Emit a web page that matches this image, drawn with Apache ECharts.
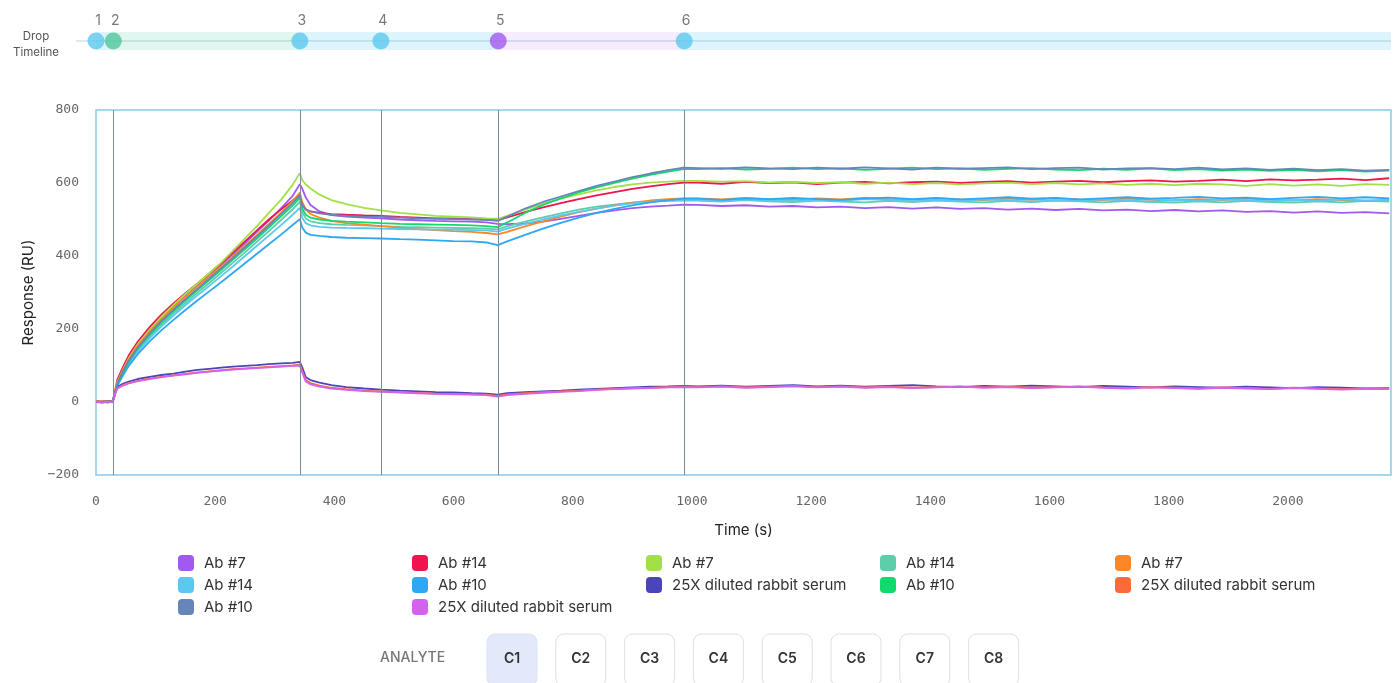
<!DOCTYPE html>
<html>
<head>
<meta charset="utf-8">
<title>Drop Timeline – Response</title>
<script src="https://cdn.jsdelivr.net/npm/echarts/dist/echarts.min.js"></script>
<style>
  html, body { margin: 0; padding: 0; background: #ffffff; }
  #chart { width: 1396px; height: 683px; }
</style>
</head>
<body>
<div id="chart"></div>
<script>
// Sample times (s) shared by every sensor trace
const times = [0,10,20,28, 32,36,45,55,70,90,110,130,150,170,190,210,230,250,270,290,310,330,342,
  346,352,360,375,395,420,450,478,510,540,570,600,630,655,674,
  690,720,750,780,810,840,870,900,930,960,986,
  1010,1050,1090,1130,1170,1210,1250,1290,1330,1370,1410,1450,1490,1530,1570,1610,1650,1690,1730,1770,1810,1850,1890,1930,1970,2010,2050,2090,2130,2170];

// Drop start times (s) for drops 1..6
const dropTimes = [0, 29, 342, 478, 675, 987];
const dropColors = ['#5bc8ef', '#4fc79a', '#5bc8ef', '#5bc8ef', '#a259f0', '#5bc8ef'];
// Band colour following each drop
const bandColors = ['rgba(91,200,239,0.2)', 'rgba(79,199,154,0.17)', 'rgba(91,200,239,0.2)',
  'rgba(91,200,239,0.2)', 'rgba(162,89,240,0.11)', 'rgba(91,200,239,0.2)'];

// Response (RU) per trace
const ab7Purple = [1,-2,2,0,
  24,52,84,115,152,192,228,260,290,318,346,375,405,435,466,497,530,565,597,
  585,560,540,522,512,508,505,503,500,498,496,495,494,492,488,
  487,489,494,502,510,518,525,531,535,538,541,
  540,537,539,535,537,533,535,531,534,530,533,529,531,527,530,526,529,525,527,523,526,522,525,521,523,519,522,518,520,517];
const ab14Red = [2,0,-1,1,
  30,62,95,128,165,205,240,270,298,324,352,380,410,440,470,500,527,552,568,
  540,527,522,518,515,513,511,510,507,505,503,503,501,500,498,
  506,520,533,545,556,566,575,584,591,597,601,
  601,598,603,600,602,597,601,603,599,602,604,600,603,605,601,604,606,602,605,607,604,606,609,605,610,607,609,612,608,613];
const ab7Lime = [0,1,-1,2,
  26,55,88,120,158,198,234,266,296,324,352,382,415,448,482,518,553,595,627,
  608,596,585,568,553,542,532,525,518,514,510,508,506,503,502,
  510,527,543,557,569,580,589,596,601,604,606,
  606,604,605,601,603,600,602,598,601,597,600,596,599,601,597,600,596,599,595,598,594,598,596,592,597,593,596,592,597,595];
const ab14Teal = [1,-1,0,2,
  22,49,78,107,142,179,212,243,271,299,326,354,382,410,439,468,498,528,549,
  520,503,495,490,487,485,484,482,480,479,478,477,476,475,473,
  481,494,506,517,527,535,541,546,549,551,552,
  552,549,553,550,548,552,549,547,551,548,552,549,547,551,548,552,550,547,551,548,546,550,547,551,548,546,550,547,551,549];
const ab7Orange = [0,2,1,-1,
  25,54,86,117,154,193,228,259,288,316,343,371,400,428,458,488,518,550,574,
  548,528,515,505,496,490,486,482,478,474,471,468,466,463,459,
  466,481,495,508,520,530,539,546,552,556,558,
  558,555,559,556,554,558,555,559,556,554,558,555,553,557,554,558,555,553,557,554,552,556,553,557,554,552,556,553,551,554];
const ab14Sky = [-1,1,2,0,
  21,47,76,104,138,175,207,237,265,292,318,345,372,400,428,456,484,513,532,
  505,490,484,480,478,477,476,475,474,473,472,472,471,470,467,
  475,488,500,511,521,530,538,544,549,552,554,
  554,551,555,552,550,554,551,556,553,550,554,551,555,552,549,553,551,555,552,549,554,551,555,552,550,554,551,555,552,554];
const ab10Blue = [0,-1,1,2,
  20,45,72,99,131,166,197,225,252,278,303,328,354,380,406,432,458,485,501,
  478,464,458,455,452,450,449,448,446,445,443,441,440,437,430,
  440,458,475,491,505,518,529,539,547,553,557,
  557,554,558,556,559,556,554,558,560,556,559,555,558,561,557,559,555,558,561,557,559,562,558,560,556,559,562,558,561,558];
const serumIndigo = [2,0,3,1,
  28,42,50,56,63,69,74,78,83,88,91,94,97,99,101,104,106,107,110,
  95,68,60,53,46,41,37,34,31,29,27,26,24,23,20,
  24,27,29,31,34,36,38,40,42,43,44,
  43,45,42,44,46,43,45,42,44,46,43,41,44,42,45,43,41,44,42,40,43,41,39,42,40,38,41,39,37,38];
const ab10Green = [1,0,2,-1,
  23,50,80,110,146,184,218,249,278,306,334,362,390,419,448,478,508,538,559,
  530,513,505,500,496,494,492,490,488,487,486,485,484,482,479,
  492,518,540,558,574,588,600,612,622,631,638,
  638,641,637,639,642,638,640,636,639,642,638,640,636,639,641,637,635,639,636,640,635,638,634,637,633,636,632,635,631,634];
const serumOrange = [3,1,2,0,
  25,38,46,52,58,64,69,73,77,81,84,87,90,92,94,96,98,100,102,
  85,60,52,45,39,35,31,29,27,25,23,22,21,20,17,
  21,24,27,29,31,34,36,38,39,41,42,
  41,43,40,42,44,41,43,40,42,39,41,43,40,42,39,41,43,40,38,41,39,37,40,38,36,39,37,35,37,36];
const ab10Slate = [0,1,-1,1,
  24,52,83,113,149,188,222,253,282,310,338,366,395,424,454,484,514,545,566,
  540,528,522,517,513,510,508,507,505,503,502,501,500,499,496,
  508,530,548,563,578,592,604,616,626,635,642,
  641,639,643,640,638,642,639,643,640,637,642,639,641,643,638,641,642,637,640,641,638,642,637,640,636,639,635,638,634,636];
const serumPink = [2,-1,1,0,
  24,37,45,51,57,63,68,72,76,80,83,86,89,91,93,95,97,99,100,
  82,56,48,42,37,33,30,28,26,24,22,21,20,19,15,
  19,22,25,28,30,33,35,37,38,40,41,
  40,42,39,41,43,40,42,39,41,38,40,42,39,41,38,40,42,39,37,40,38,36,39,37,35,38,36,34,36,35];

const traceLabels = ['Ab #7','Ab #14','Ab #7','Ab #14','Ab #7','Ab #14','Ab #10',
  '25X diluted rabbit serum','Ab #10','25X diluted rabbit serum','Ab #10','25X diluted rabbit serum'];
const traceColors = ['#a259f0','#f0134d','#a3e048','#5ccfaa','#fb8727','#5bc8ef','#2ea8f2',
  '#4b46b8','#12d96c','#fb6a37','#6685b8','#d462f0'];
const traceValues = [ab7Purple, ab14Red, ab7Lime, ab14Teal, ab7Orange, ab14Sky, ab10Blue,
  serumIndigo, ab10Green, serumOrange, ab10Slate, serumPink];

const analytes = ['C1','C2','C3','C4','C5','C6','C7','C8'];

const X_MAX = 2173;
const FONT = 'Inter, "Noto Sans", sans-serif';
const MONO = '"DejaVu Sans Mono", "Liberation Mono", monospace';

// unique series ids; legend shows only the label part
const seriesNames = traceLabels.map((l, i) => l + '|' + i);

const lineSeries = traceValues.map((vals, i) => ({
  name: seriesNames[i],
  type: 'line',
  xAxisIndex: 0, yAxisIndex: 0,
  data: times.map((t, k) => [t, vals[k]]),
  showSymbol: false,
  symbol: 'none',
  color: traceColors[i],
  itemStyle: { color: traceColors[i] },
  lineStyle: { color: traceColors[i], width: 1.8 },
  emphasis: { disabled: true },
  animation: false,
  z: 3
}));

// vertical drop markers on the response plot
lineSeries[0].markLine = {
  silent: true,
  symbol: ['none', 'none'],
  label: { show: false },
  lineStyle: { color: '#7d8b96', width: 1, type: 'solid' },
  data: dropTimes.slice(1).map(t => ({ xAxis: t })),
  animation: false
};

const timelineSeries = {
  name: 'drops',
  type: 'scatter',
  xAxisIndex: 1, yAxisIndex: 1,
  clip: false,
  symbolSize: 17,
  data: dropTimes.map((t, i) => ({ value: [t, 0.5], itemStyle: { color: dropColors[i] } })),
  label: {
    show: true, position: 'top', distance: 5, offset: [2, 0],
    formatter: p => String(p.dataIndex + 1),
    fontFamily: FONT, fontSize: 14, color: '#555'
  },
  markArea: {
    silent: true,
    data: dropTimes.map((t, i) => [
      { xAxis: t, itemStyle: { color: bandColors[i] } },
      { xAxis: i < dropTimes.length - 1 ? dropTimes[i + 1] : X_MAX }
    ])
  },
  emphasis: { disabled: true },
  animation: false,
  z: 4
};

// legend laid out as five columns, filled row by row
const legendCols = [[0,5,10],[1,6,11],[2,7],[3,8],[4,9]];
const legendLefts = [178, 412, 646, 880, 1115];
const legends = legendCols.map((idx, c) => ({
  orient: 'vertical',
  left: legendLefts[c],
  top: 555,
  padding: 0,
  itemWidth: 16,
  itemHeight: 16,
  itemGap: 6,
  icon: 'roundRect',
  selectedMode: false,
  data: idx.map(i => seriesNames[i]),
  formatter: n => n.split('|')[0],
  textStyle: { fontFamily: FONT, fontSize: 15, color: '#333', padding: [0, 0, 0, 5] }
}));

// analyte buttons
const btnGraphics = [];
btnGraphics.push({
  type: 'text', left: 380, top: 651,
  style: { text: 'ANALYTE', font: '500 14px ' + FONT, fill: '#777' }
});
analytes.forEach((a, i) => {
  const x = 487 + i * 68.8;
  const active = i === 0;
  btnGraphics.push({
    type: 'rect',
    shape: { x: x, y: 634, width: 50, height: 52, r: 8 },
    style: { fill: active ? '#e4e8fb' : '#ffffff', stroke: active ? '#dde2f6' : '#dcdfe5', lineWidth: 1 }
  });
  btnGraphics.push({
    type: 'text',
    x: x + 25, y: 659,
    style: { text: a, font: '600 14px ' + FONT, fill: '#333', align: 'center', verticalAlign: 'middle' }
  });
});

const option = {
  backgroundColor: '#ffffff',
  animation: false,
  textStyle: { fontFamily: FONT },
  grid: [
    { left: 96, right: 5, top: 110, bottom: 208, show: true, borderColor: '#86cde6', borderWidth: 1.5, backgroundColor: 'transparent' },
    { left: 96, right: 5, top: 32, height: 18 }
  ],
  xAxis: [
    {
      type: 'value', gridIndex: 0, min: 0, max: X_MAX, interval: 200,
      name: 'Time (s)', nameLocation: 'middle', nameGap: 48,
      nameTextStyle: { fontFamily: FONT, fontSize: 15, color: '#222' },
      axisLine: { show: false }, axisTick: { show: false }, splitLine: { show: false },
      axisLabel: { fontFamily: MONO, fontSize: 13, color: '#666', margin: 20, showMaxLabel: false,
        formatter: v => String(v) }
    },
    { type: 'value', gridIndex: 1, min: 0, max: X_MAX, show: false }
  ],
  yAxis: [
    {
      type: 'value', gridIndex: 0, min: -200, max: 800, interval: 200,
      name: 'Response (RU)', nameLocation: 'middle', nameGap: 60, nameRotate: 90,
      nameTextStyle: { fontFamily: FONT, fontSize: 15, color: '#222' },
      axisLine: { show: false }, axisTick: { show: false }, splitLine: { show: false },
      axisLabel: { fontFamily: MONO, fontSize: 13, color: '#666', margin: 17,
        formatter: v => String(v).replace('-', '\u2212') }
    },
    { type: 'value', gridIndex: 1, min: 0, max: 1, show: false }
  ],
  legend: legends,
  graphic: [
    {
      type: 'line', z: 1, silent: true,
      shape: { x1: 76, y1: 41, x2: 1391, y2: 41 },
      style: { stroke: '#cfe0e6', lineWidth: 1.5 }
    },
    {
      type: 'text', x: 36, y: 29, silent: true,
      style: { text: 'Drop\nTimeline', font: '11.5px ' + FONT, fill: '#555', align: 'center', lineHeight: 16 }
    },
    ...btnGraphics
  ],
  series: [...lineSeries, timelineSeries]
};

const chart = echarts.init(document.getElementById('chart'), null, { renderer: 'canvas' });
chart.setOption(option);
</script>
</body>
</html>
